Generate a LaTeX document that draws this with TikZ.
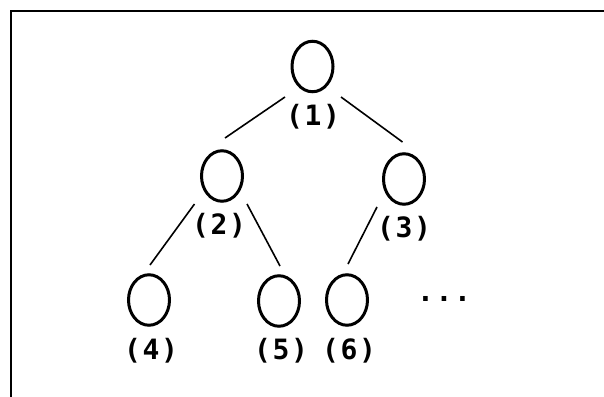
\documentclass[tikz,border=0pt]{standalone}
\usepackage{fontspec}
\usetikzlibrary{shapes.geometric}
\newfontfamily\labelfont[LetterSpace=6]{DejaVu Sans Mono}
\begin{document}
\begin{tikzpicture}[x=1pt,y=-1pt,
  treenode/.style={draw=black, ellipse, line width=3pt, inner sep=0pt,
    minimum width=41pt, minimum height=50.5pt},
  nodelabel/.style={inner sep=0pt, font=\labelfont\bfseries\fontsize{28}{28}\selectfont},
  edge/.style={draw=black, line width=1.6pt}]
\useasboundingbox (0,0) rectangle (604,396);
\fill[white] (0,0) rectangle (604,396);
\clip (0,0) rectangle (604,396);
% frame
\draw[line width=2.2pt] (11,400) -- (11,11) -- (610,11);
% nodes
\node[treenode] (n1) at (312.5,66.5) {};
\node[treenode] (n2) at (222,176) {};
\node[treenode] (n3) at (404,179) {};
\node[treenode] (n4) at (149,300) {};
\node[treenode] (n5) at (279,301) {};
\node[treenode] (n6) at (347,300) {};
% labels
\node[nodelabel] (l1) at (313,117) {(1)};
\node[nodelabel] (l2) at (219,226) {(2)};
\node[nodelabel] (l3) at (404,229) {(3)};
\node[nodelabel] (l4) at (151,351) {(4)};
\node[nodelabel] (l5) at (281,351) {(5)};
\node[nodelabel] (l6) at (349,351) {(6)};
\node[nodelabel] (dots) at (444,299) {...};
% connector end points
\coordinate (a12) at (285,97);   \coordinate (b12) at (225,138);
\coordinate (a13) at (341,97);   \coordinate (b13) at (402.5,142);
\coordinate (a24) at (194.5,204); \coordinate (b24) at (150,265);
\coordinate (a25) at (247,204);  \coordinate (b25) at (280,266);
\coordinate (a36) at (377,207);  \coordinate (b36) at (348,264);
\draw[edge] (a12) -- (b12);
\draw[edge] (a13) -- (b13);
\draw[edge] (a24) -- (b24);
\draw[edge] (a25) -- (b25);
\draw[edge] (a36) -- (b36);
\end{tikzpicture}
\end{document}
